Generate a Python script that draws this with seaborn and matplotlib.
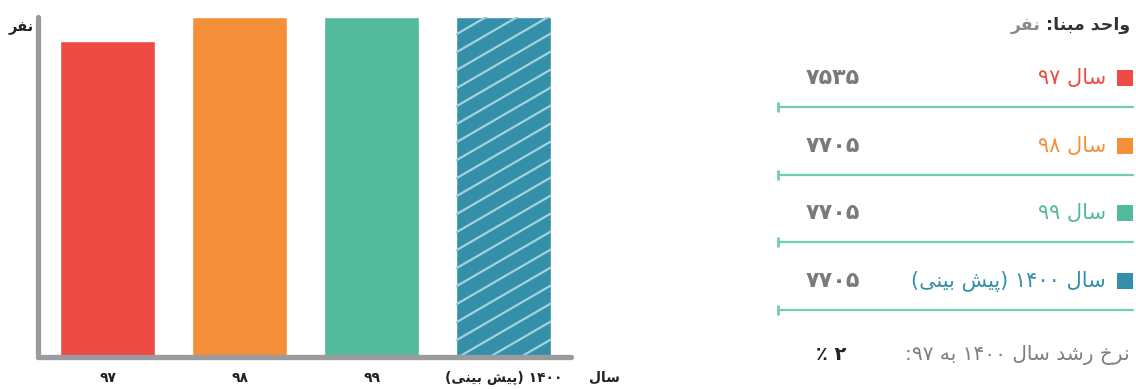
import re
import matplotlib
matplotlib.use('Agg')
import matplotlib.pyplot as plt
from matplotlib.lines import Line2D
from matplotlib.transforms import IdentityTransform, Bbox
import seaborn as sns

# data
years = ['۹۷', '۹۸', '۹۹', '۱۴۰۰ (پیش بینی)']
values = [7535, 7705, 7705, 7705]
colors = ['#ef4b45', '#f58f39', '#53bb9b', '#3490a9']
unit_title = 'واحد مبنا:'
unit_name = 'نفر'
x_title = 'سال'
growth_label = 'نرخ رشد سال ۱۴۰۰ به ۹۷:'
growth_value = '۲ ٪'

FA_DIGITS = str.maketrans('0123456789', '۰۱۲۳۴۵۶۷۸۹')

# presentation forms: isolated, final, initial, medial
FORMS = {
    'ا': ('\uFE8D', '\uFE8E'),
    'د': ('\uFEA9', '\uFEAA'),
    'ر': ('\uFEAD', '\uFEAE'),
    'و': ('\uFEED', '\uFEEE'),
    'ب': ('\uFE8F', '\uFE90', '\uFE91', '\uFE92'),
    'پ': ('\uFB56', '\uFB57', '\uFB58', '\uFB59'),
    'ح': ('\uFEA1', '\uFEA2', '\uFEA3', '\uFEA4'),
    'خ': ('\uFEA5', '\uFEA6', '\uFEA7', '\uFEA8'),
    'س': ('\uFEB1', '\uFEB2', '\uFEB3', '\uFEB4'),
    'ش': ('\uFEB5', '\uFEB6', '\uFEB7', '\uFEB8'),
    'ف': ('\uFED1', '\uFED2', '\uFED3', '\uFED4'),
    'ل': ('\uFEDD', '\uFEDE', '\uFEDF', '\uFEE0'),
    'م': ('\uFEE1', '\uFEE2', '\uFEE3', '\uFEE4'),
    'ن': ('\uFEE5', '\uFEE6', '\uFEE7', '\uFEE8'),
    'ه': ('\uFEE9', '\uFEEA', '\uFEEB', '\uFEEC'),
    'ی': ('\uFBFC', '\uFBFD', '\uFBFE', '\uFBFF'),
}


def shape(text):
    out = []
    for i, ch in enumerate(text):
        if ch not in FORMS:
            out.append(ch)
            continue
        f = FORMS[ch]
        prev = text[i - 1] if i > 0 else None
        nxt = text[i + 1] if i + 1 < len(text) else None
        jp = prev in FORMS and len(FORMS[prev]) == 4
        jn = len(f) == 4 and nxt in FORMS
        if jp and jn:
            out.append(f[3])
        elif jp:
            out.append(f[1])
        elif jn:
            out.append(f[2])
        else:
            out.append(f[0])
    return ''.join(out)


def fa(text):
    # shape then put in visual (left to right) order
    s = shape(text)
    runs = re.split(r'([۰-۹0-9]+)', s)
    mirror = str.maketrans('()', ')(')
    res = []
    for r in reversed(runs):
        if re.fullmatch(r'[۰-۹0-9]+', r):
            res.append(r)
        else:
            res.append(r[::-1].translate(mirror))
    return ''.join(res)


sns.set_style('white')
plt.rcParams['font.family'] = ['DejaVu Sans']

W, H = 1136, 389
fig = plt.figure(figsize=(W / 100, H / 100), dpi=100)
ax = fig.add_axes([38 / W, (H - 357) / H, (571 - 38) / W, (357 - 17) / H])

labels = [fa(y) for y in years]
sns.barplot(x=labels, y=values, hue=labels, palette=colors, legend=False,
            width=0.72, saturation=1, ax=ax)
ax.set_xlim(-0.53, 3.508)
ax.set_ylim(5297, 7705)
ax.set_yticks([])
ax.set_xlabel('')
ax.set_ylabel('')
ax.tick_params(axis='x', length=0, pad=10, labelsize=10, labelcolor='#222222')
for t in ax.get_xticklabels():
    t.set_fontweight('bold')

for side in ['top', 'right']:
    ax.spines[side].set_visible(False)
for side in ['left', 'bottom']:
    sp = ax.spines[side]
    sp.set_color('#9b9b9f')
    sp.set_linewidth(3.8)
    sp.set_capstyle('round')
    sp.set_zorder(5)

# diagonal stripes on the forecast bar
bar = ax.patches[3]
bb = Bbox.intersection(bar.get_window_extent(), ax.bbox)
step = 18
x0, x1 = bb.x0 - 10, bb.x1 + 10
y_bot = bb.y0 - (x1 - x0)
k = 0
while y_bot + k * step < bb.y1 + 10:
    ys = y_bot + k * step
    ln = Line2D([x0, x1], [ys, ys + 0.58 * (x1 - x0)], transform=IdentityTransform(),
                color='#a3d2de', lw=1.6, zorder=3)
    ax.add_line(ln)
    ln.set_clip_box(bb)
    k += 1

# overlay in pixel coords for side panel texts
ov = fig.add_axes([0, 0, 1, 1], facecolor='none')
ov.set_xlim(0, W)
ov.set_ylim(H, 0)
ov.axis('off')

ov.text(21, 27, fa(unit_name), ha='center', va='center', fontsize=10.5,
        fontweight='bold', color='#222222')
ov.text(604, 378, fa(x_title), ha='center', va='center', fontsize=10,
        fontweight='bold', color='#222222')

t1 = ov.text(1130, 25, fa(unit_title), ha='right', va='center', fontsize=12.5,
             fontweight='bold', color='#333333')
ov.annotate(fa(unit_name), xy=(0, 0.5), xycoords=t1, xytext=(-5, 0),
            textcoords='offset pixels', ha='right', va='center', fontsize=12.5,
            fontweight='bold', color='#8a8a8a')

row_y = [78, 146, 213, 281]
for y, yr, v, c in zip(row_y, years, values, colors):
    ov.scatter([1125], [y], marker='s', s=135, color=c, linewidths=0)
    ov.text(1106, y, fa('سال ' + yr), ha='right', va='center', fontsize=15,
            color=c)
    ov.text(833, y, str(v).translate(FA_DIGITS), ha='center', va='center',
            fontsize=16, fontweight='bold', color='#7a7a7a')
    ov.plot([778, 1133], [y + 29, y + 29], color='#72cdb0', lw=1.6,
            marker='|', markevery=[0], ms=7, mew=2)

ov.text(1130, 355, fa(growth_label), ha='right', va='center', fontsize=14.5,
        color='#7f7f7f')
ov.text(831, 355, fa(growth_value), ha='center', va='center', fontsize=14,
        fontweight='bold', color='#222222')

fig.savefig('out.png', dpi=100)
